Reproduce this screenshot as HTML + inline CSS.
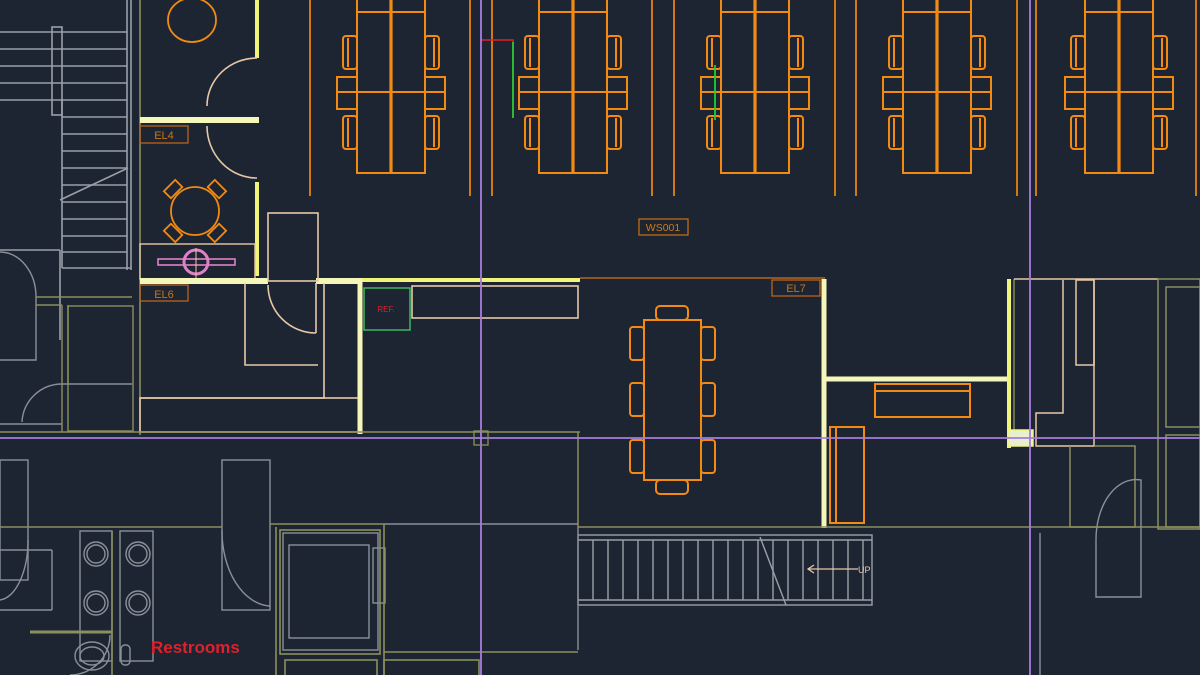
<!DOCTYPE html>
<html><head><meta charset="utf-8"><style>
html,body{margin:0;padding:0;background:#1e2532;}
svg{display:block}
text{font-family:"Liberation Sans",sans-serif}
</style></head><body>
<svg width="1200" height="675" viewBox="0 0 1200 675" xmlns="http://www.w3.org/2000/svg">
<rect width="1200" height="675" fill="#1e2532"/>
<defs>
<g id="ws" fill="none" stroke="#f28a14" stroke-width="2">
  <rect x="0" y="-5" width="68" height="178"/>
  <line x1="0" y1="12" x2="68" y2="12"/>
  <line x1="-20" y1="92" x2="88" y2="92"/>
  <line x1="34" y1="-5" x2="34" y2="173" stroke-width="3.2"/>
  <rect x="-20" y="77" width="20" height="32"/>
  <rect x="68" y="77" width="20" height="32"/>
  <rect x="-14" y="36" width="14" height="33" rx="3"/>
  <rect x="-14" y="116" width="14" height="33" rx="3"/>
  <rect x="68" y="36" width="14" height="33" rx="3"/>
  <rect x="68" y="116" width="14" height="33" rx="3"/>
  <line x1="-9" y1="38" x2="-9" y2="67"/><line x1="-9" y1="118" x2="-9" y2="147"/>
  <line x1="77" y1="38" x2="77" y2="67"/><line x1="77" y1="118" x2="77" y2="147"/>
</g>
</defs>

<use href="#ws" x="357"/>
<use href="#ws" x="539"/>
<use href="#ws" x="721"/>
<use href="#ws" x="903"/>
<use href="#ws" x="1085"/>
<g stroke="#e8820f" stroke-width="1.8">
<line x1="310" y1="0" x2="310" y2="196"/><line x1="470" y1="0" x2="470" y2="196"/>
<line x1="492" y1="0" x2="492" y2="196"/><line x1="652" y1="0" x2="652" y2="196"/>
<line x1="674" y1="0" x2="674" y2="196"/><line x1="835" y1="0" x2="835" y2="196"/>
<line x1="856" y1="0" x2="856" y2="196"/><line x1="1017" y1="0" x2="1017" y2="196"/>
<line x1="1036" y1="0" x2="1036" y2="196"/><line x1="1196" y1="0" x2="1196" y2="196"/>
</g>
<polyline points="481,36 481,40 513,40 513,118" fill="none" stroke="#e0202a" stroke-width="1.5"/>
<line x1="513" y1="42" x2="513" y2="118" stroke="#22cc33" stroke-width="1.8"/>
<line x1="715" y1="65" x2="715" y2="120" stroke="#22cc33" stroke-width="1.8"/>

<rect x="639" y="219" width="49" height="16" fill="none" stroke="#c06a10" stroke-width="1.3"/>
<text x="663" y="231" font-size="10.5" fill="#d07a18" text-anchor="middle">WS001</text>

<g stroke="#9aa0a8" stroke-width="1.6" fill="none">
<rect x="52" y="27" width="10" height="88"/>
<line x1="127" y1="0" x2="127" y2="270"/><line x1="131" y1="0" x2="131" y2="270"/>
<line x1="62" y1="100" x2="62" y2="268"/><line x1="62" y1="268" x2="131" y2="268"/>
<line x1="60" y1="200" x2="128" y2="168"/>
</g>
<g stroke="#9aa0a8" stroke-width="1.6">
<line x1="0" y1="32" x2="127" y2="32"/><line x1="0" y1="49" x2="127" y2="49"/>
<line x1="0" y1="66" x2="127" y2="66"/><line x1="0" y1="83" x2="127" y2="83"/>
<line x1="0" y1="100" x2="127" y2="100"/><line x1="62" y1="117" x2="127" y2="117"/>
<line x1="62" y1="134" x2="127" y2="134"/><line x1="62" y1="151" x2="127" y2="151"/>
<line x1="62" y1="168" x2="127" y2="168"/><line x1="62" y1="185" x2="127" y2="185"/>
<line x1="62" y1="202" x2="127" y2="202"/><line x1="62" y1="219" x2="127" y2="219"/>
<line x1="62" y1="236" x2="127" y2="236"/><line x1="62" y1="252" x2="127" y2="252"/>
<line x1="0" y1="250" x2="60" y2="250"/><line x1="60" y1="250" x2="60" y2="340"/>
</g>
<line x1="140" y1="0" x2="140" y2="435" stroke="#8a8f5c" stroke-width="1.6"/>
<g stroke="#8a9098" stroke-width="1.4" fill="none">
<path d="M0,252 A36,45 0 0 1 36,297 L36,360 L0,360"/>
<path d="M22,422 A40,40 0 0 1 62,384 L132,384"/>
<line x1="0" y1="424" x2="62" y2="424"/>
</g>
<g stroke="#8a8f5c" stroke-width="1.4" fill="none">
<line x1="36" y1="297" x2="132" y2="297"/><line x1="36" y1="305" x2="62" y2="305"/>
<line x1="62" y1="305" x2="62" y2="432"/><line x1="68" y1="305" x2="68" y2="384"/>
<rect x="68" y="306" width="65" height="125"/>
<line x1="0" y1="432" x2="62" y2="432"/>
</g>

<ellipse cx="192" cy="20" rx="24" ry="22" fill="none" stroke="#f28a14" stroke-width="1.8"/>
<g fill="none">
<line x1="257" y1="0" x2="257" y2="58" stroke="#f0f57a" stroke-width="4"/>
<path d="M257,58 A50,48 0 0 0 207,106 M207,126 A50,52 0 0 0 257,178" stroke="#e6c8a8" stroke-width="1.6"/>
<line x1="140" y1="120" x2="259" y2="120" stroke="#f4f7b8" stroke-width="6"/>
<line x1="257" y1="182" x2="257" y2="276" stroke="#f0f57a" stroke-width="4"/>
</g>
<rect x="140" y="126" width="48" height="17" fill="none" stroke="#b8631a" stroke-width="1.3"/>
<text x="164" y="139" font-size="11" fill="#c8741c" text-anchor="middle">EL4</text>
<g fill="none" stroke="#f28a14" stroke-width="1.8">
<circle cx="195" cy="211" r="24"/>
<g transform="translate(195,211)">
<rect x="-8" y="-36" width="16" height="10" transform="rotate(-45)"/>
<rect x="-8" y="-36" width="16" height="10" transform="rotate(45)"/>
<rect x="-8" y="-36" width="16" height="10" transform="rotate(135)"/>
<rect x="-8" y="-36" width="16" height="10" transform="rotate(-135)"/>
</g></g>
<rect x="140" y="244" width="115" height="35" fill="none" stroke="#e6c8a8" stroke-width="1.4"/>
<rect x="158" y="259" width="77" height="6" fill="none" stroke="#e080c8" stroke-width="1.6"/>
<circle cx="196" cy="262" r="12" fill="none" stroke="#e080c8" stroke-width="3"/>
<line x1="196" y1="248" x2="196" y2="278" stroke="#e6c8a8" stroke-width="1"/>
<line x1="140" y1="281" x2="268" y2="281" stroke="#f4f7b8" stroke-width="6"/>
<line x1="316" y1="281" x2="362" y2="281" stroke="#f4f7b8" stroke-width="6"/>
<line x1="362" y1="280" x2="580" y2="280" stroke="#f0f57a" stroke-width="4"/>
<line x1="580" y1="278" x2="825" y2="278" stroke="#b8631a" stroke-width="1.4"/>
<rect x="140" y="285" width="48" height="16" fill="none" stroke="#b8631a" stroke-width="1.3"/>
<text x="164" y="298" font-size="11" fill="#c8741c" text-anchor="middle">EL6</text>
<g fill="none" stroke="#e6c8a8" stroke-width="1.6">
<rect x="268" y="213" width="50" height="68"/>
<path d="M268,285 A48,48 0 0 0 316,333"/>
<line x1="316" y1="283" x2="316" y2="333"/>
<polyline points="245,283 245,365 318,365"/>
<polyline points="324,283 324,398 140,398"/>
<rect x="140" y="398" width="220" height="34"/>
<rect x="412" y="286" width="166" height="32"/>
</g>
<line x1="360" y1="280" x2="360" y2="434" stroke="#f4f7b8" stroke-width="5"/>
<rect x="364" y="288" width="46" height="42" fill="none" stroke="#3ec060" stroke-width="1.4"/>
<text x="386" y="312" font-size="8" fill="#e0202a" text-anchor="middle">REF.</text>

<g fill="none" stroke="#f28a14" stroke-width="2">
<rect x="644" y="320" width="57" height="160"/>
<rect x="656" y="306" width="32" height="14" rx="4"/><rect x="656" y="480" width="32" height="14" rx="4"/>
<rect x="630" y="327" width="14" height="33" rx="3"/><rect x="630" y="383" width="14" height="33" rx="3"/><rect x="630" y="440" width="14" height="33" rx="3"/>
<rect x="701" y="327" width="14" height="33" rx="3"/><rect x="701" y="383" width="14" height="33" rx="3"/><rect x="701" y="440" width="14" height="33" rx="3"/>
</g>
<rect x="772" y="280" width="48" height="16" fill="none" stroke="#b8631a" stroke-width="1.3"/>
<text x="796" y="292" font-size="11" fill="#c8741c" text-anchor="middle">EL7</text>
<line x1="824" y1="279" x2="824" y2="528" stroke="#f4f7b8" stroke-width="5"/>
<line x1="824" y1="379" x2="1008" y2="379" stroke="#f4f7b8" stroke-width="5"/>
<line x1="1009" y1="279" x2="1009" y2="448" stroke="#f0f57a" stroke-width="4"/>
<line x1="1014" y1="279" x2="1014" y2="430" stroke="#8a8f5c" stroke-width="1.4"/>
<g fill="none" stroke="#f28a14" stroke-width="2">
<rect x="875" y="384" width="95" height="33"/><line x1="875" y1="391" x2="970" y2="391"/>
<rect x="830" y="427" width="34" height="96"/><line x1="836" y1="427" x2="836" y2="523"/>
</g>
<rect x="1008" y="430" width="25" height="16" fill="#e8f0d0" stroke="#f0f57a" stroke-width="1.5"/>
<g fill="none" stroke="#e6c8a8" stroke-width="1.5">
<polyline points="1014,279 1158,279"/>
<polyline points="1063,280 1063,413 1036,413 1036,446 1094,446 1094,280"/>
<rect x="1076" y="280" width="18" height="85"/>
</g>
<g fill="none" stroke="#8a8f5c" stroke-width="1.5">
<rect x="1158" y="279" width="42" height="250"/><rect x="1166" y="287" width="34" height="140"/>
<rect x="1166" y="435" width="34" height="92"/>
<polyline points="1070,446 1070,527 1135,527 1135,446 1094,446"/>
<line x1="578" y1="527" x2="1200" y2="527"/>
<line x1="578" y1="432" x2="578" y2="527"/>
<line x1="62" y1="432" x2="580" y2="432"/>
</g>
<g fill="none" stroke="#8a9098" stroke-width="1.4">
<path d="M1096,540 A40,60 0 0 1 1141,480 L1141,597 L1096,597 Z"/>
<line x1="1040" y1="533" x2="1040" y2="675"/>
</g>

<g stroke="#9aa0a8" stroke-width="1.4" fill="none">
<rect x="578" y="535" width="294" height="70"/>
<line x1="578" y1="540" x2="872" y2="540"/><line x1="578" y1="600" x2="872" y2="600"/>
<path d="M593,540V600M608,540V600M623,540V600M638,540V600M653,540V600M668,540V600M683,540V600M698,540V600M713,540V600M728,540V600M743,540V600M758,540V600M773,540V600M788,540V600M803,540V600M818,540V600M833,540V600M848,540V600M863,540V600"/>
<line x1="760" y1="537" x2="786" y2="605"/>
</g>
<line x1="808" y1="569" x2="858" y2="569" stroke="#e6c8a8" stroke-width="1.3"/>
<path d="M814,565 L808,569 L814,573" fill="none" stroke="#e6c8a8" stroke-width="1.3"/>
<text x="858" y="573" font-size="9" fill="#e6c8a8">UP</text>

<g fill="none" stroke="#8a9098" stroke-width="1.4">
<rect x="0" y="460" width="28" height="120"/>
<path d="M28,540 A30,60 0 0 1 0,600"/>
<rect x="222" y="460" width="48" height="150"/>
<path d="M222,530 A50,75 0 0 0 270,606"/>
<line x1="0" y1="550" x2="52" y2="550"/><line x1="52" y1="550" x2="52" y2="610"/><line x1="0" y1="610" x2="52" y2="610"/>
<rect x="80" y="531" width="32" height="130"/><rect x="120" y="531" width="33" height="130"/>
<circle cx="96" cy="554" r="12"/><circle cx="96" cy="554" r="9"/><circle cx="96" cy="603" r="12"/><circle cx="96" cy="603" r="9"/>
<circle cx="138" cy="554" r="12"/><circle cx="138" cy="554" r="9"/><circle cx="138" cy="603" r="12"/><circle cx="138" cy="603" r="9"/>
<ellipse cx="92" cy="656" rx="17" ry="14"/><ellipse cx="92" cy="656" rx="12" ry="9"/>
<path d="M70,675 A40,40 0 0 0 110,635"/>
<rect x="121" y="645" width="9" height="20" rx="4"/>
<rect x="283" y="533" width="95" height="117"/><rect x="289" y="545" width="80" height="93"/>
<rect x="373" y="548" width="12" height="55"/>
<line x1="384" y1="524" x2="578" y2="524"/>
<line x1="578" y1="527" x2="578" y2="650"/>
</g>
<g fill="none" stroke="#8a8f5c" stroke-width="1.6">
<line x1="0" y1="527" x2="222" y2="527"/>
<line x1="270" y1="524" x2="384" y2="524"/>
<line x1="384" y1="524" x2="384" y2="675"/>
<line x1="276" y1="527" x2="276" y2="675"/>
<rect x="280" y="530" width="100" height="124"/>
<line x1="384" y1="652" x2="578" y2="652"/>
<rect x="384" y="660" width="95" height="20"/><rect x="285" y="660" width="92" height="20"/>
<line x1="30" y1="632" x2="112" y2="632" stroke-width="3"/>
<line x1="112" y1="531" x2="112" y2="675"/>
</g>
<text x="151" y="653" font-size="17" font-weight="bold" fill="#e0202a">Restrooms</text>

<g stroke="#a77ce0" stroke-width="1.8">
<line x1="481" y1="0" x2="481" y2="675"/>
<line x1="1030" y1="0" x2="1030" y2="675"/>
<line x1="0" y1="438" x2="1200" y2="438"/>
</g>
<rect x="474" y="431" width="14" height="14" fill="none" stroke="#8a8f5c" stroke-width="1.3"/>
</svg>
</body></html>
